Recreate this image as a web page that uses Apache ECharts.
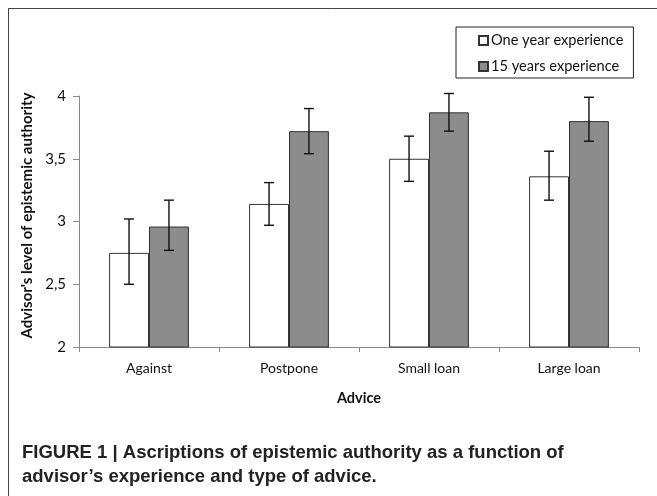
<!DOCTYPE html>
<html>
<head>
<meta charset="utf-8">
<script src="https://cdn.jsdelivr.net/npm/echarts@6/dist/echarts.min.js"></script>
<style>
html,body{margin:0;padding:0;background:#fff;}
#c{width:657px;height:496px;}
</style>
</head>
<body>
<div id="c"></div>
<script>
var categories = ['Against', 'Postpone', 'Small loan', 'Large loan'];
var seriesNames = ['One year experience', '15 years experience'];
var oneYear = [2.75, 3.14, 3.50, 3.36];
var oneYearLow = [2.50, 2.97, 3.32, 3.17];
var oneYearHigh = [3.02, 3.31, 3.68, 3.56];
var fifteenYears = [2.96, 3.72, 3.87, 3.80];
var fifteenLow = [2.77, 3.54, 3.72, 3.64];
var fifteenHigh = [3.17, 3.90, 4.02, 3.99];
var yTicks = {min: 2, max: 4, interval: 0.5};

var FONT = 'Lato';
var gapFrac = 0.43;

function errItem(lows, highs, side) {
  return function (params, api) {
    var i = api.value(0);
    var lo = api.coord([i, api.value(1)]);
    var hi = api.coord([i, api.value(2)]);
    var band = api.size([1, 0])[0];
    var bw = band * (1 - gapFrac) / 2;
    var x = lo[0] + side * bw / 2;
    var cap = 5;
    var st = {stroke: '#111', lineWidth: 1.4};
    return {
      type: 'group',
      children: [
        {type: 'line', shape: {x1: x, y1: lo[1], x2: x, y2: hi[1]}, style: st},
        {type: 'line', shape: {x1: x - cap, y1: lo[1], x2: x + cap, y2: lo[1]}, style: st},
        {type: 'line', shape: {x1: x - cap, y1: hi[1], x2: x + cap, y2: hi[1]}, style: st}
      ]
    };
  };
}

function errData(lows, highs) {
  return categories.map(function (c, i) { return [i, lows[i], highs[i]]; });
}

var chart = echarts.init(document.getElementById('c'));
chart.setOption({
  animation: false,
  backgroundColor: '#fff',
  grid: {left: 79, right: 18, top: 96, bottom: 149, containLabel: false},
  legend: {
    orient: 'vertical',
    left: 456,
    top: 27,
    width: 190,
    height: 51,
    borderColor: '#222',
    borderWidth: 1,
    padding: [6, 10, 4, 22],
    itemWidth: 9,
    itemHeight: 9,
    itemGap: 11,
    icon: 'rect',
    selectedMode: false,
    textStyle: {fontFamily: FONT, fontSize: 14.6, color: '#111', padding: [0, 0, 0, -2]},
    data: seriesNames
  },
  xAxis: {
    type: 'category',
    data: categories,
    name: 'Advice',
    nameLocation: 'middle',
    nameGap: 44,
    nameTextStyle: {fontFamily: FONT, fontSize: 14.5, fontWeight: 'bold', color: '#111'},
    axisLine: {lineStyle: {color: '#8a8a8a', width: 1}},
    axisTick: {show: true, length: 5, lineStyle: {color: '#8a8a8a'}},
    axisLabel: {fontFamily: FONT, fontSize: 14, color: '#111', margin: 14}
  },
  yAxis: {
    type: 'value',
    min: yTicks.min,
    max: yTicks.max,
    interval: yTicks.interval,
    name: "Advisor's level of epistemic authority",
    nameLocation: 'middle',
    nameGap: 31,
    nameTextStyle: {fontFamily: FONT, fontSize: 15, fontWeight: 'bold', color: '#111', padding: [0, 0, 0, 12]},
    splitLine: {show: false},
    axisLine: {show: true, lineStyle: {color: '#8a8a8a', width: 1}},
    axisTick: {show: true, length: 6, lineStyle: {color: '#8a8a8a'}},
    axisLabel: {
      fontFamily: FONT, fontSize: 15, color: '#111', margin: 13,
      formatter: function (v) { return String(v).replace('.', ','); }
    }
  },
  series: [
    {
      name: seriesNames[0], type: 'bar', data: oneYear,
      barGap: '0%', barCategoryGap: (gapFrac * 100) + '%',
      itemStyle: {color: '#ffffff', borderColor: '#333', borderWidth: 1}
    },
    {
      name: seriesNames[1], type: 'bar', data: fifteenYears,
      barGap: '0%', barCategoryGap: (gapFrac * 100) + '%',
      itemStyle: {color: '#8c8c8c', borderColor: '#333', borderWidth: 1}
    },
    {
      type: 'custom', renderItem: errItem(oneYearLow, oneYearHigh, -1),
      data: errData(oneYearLow, oneYearHigh), encode: {x: 0, y: [1, 2]}, z: 10, silent: true
    },
    {
      type: 'custom', renderItem: errItem(fifteenLow, fifteenHigh, 1),
      data: errData(fifteenLow, fifteenHigh), encode: {x: 0, y: [1, 2]}, z: 10, silent: true
    }
  ],
  graphic: [
    {type: 'line', shape: {x1: 8, y1: 8.5, x2: 657, y2: 8.5}, style: {stroke: '#444', lineWidth: 1}},
    {type: 'line', shape: {x1: 8.5, y1: 8, x2: 8.5, y2: 496}, style: {stroke: '#444', lineWidth: 1}},
    {
      type: 'text', left: 22, top: 441,
      style: {
        text: 'FIGURE 1 | Ascriptions of epistemic authority as a function of\nadvisor\u2019s experience and type of advice.',
        font: 'bold 18.5px "Liberation Sans", Arial, sans-serif',
        fill: '#222', lineHeight: 24
      }
    }
  ]
});
</script>
</body>
</html>
